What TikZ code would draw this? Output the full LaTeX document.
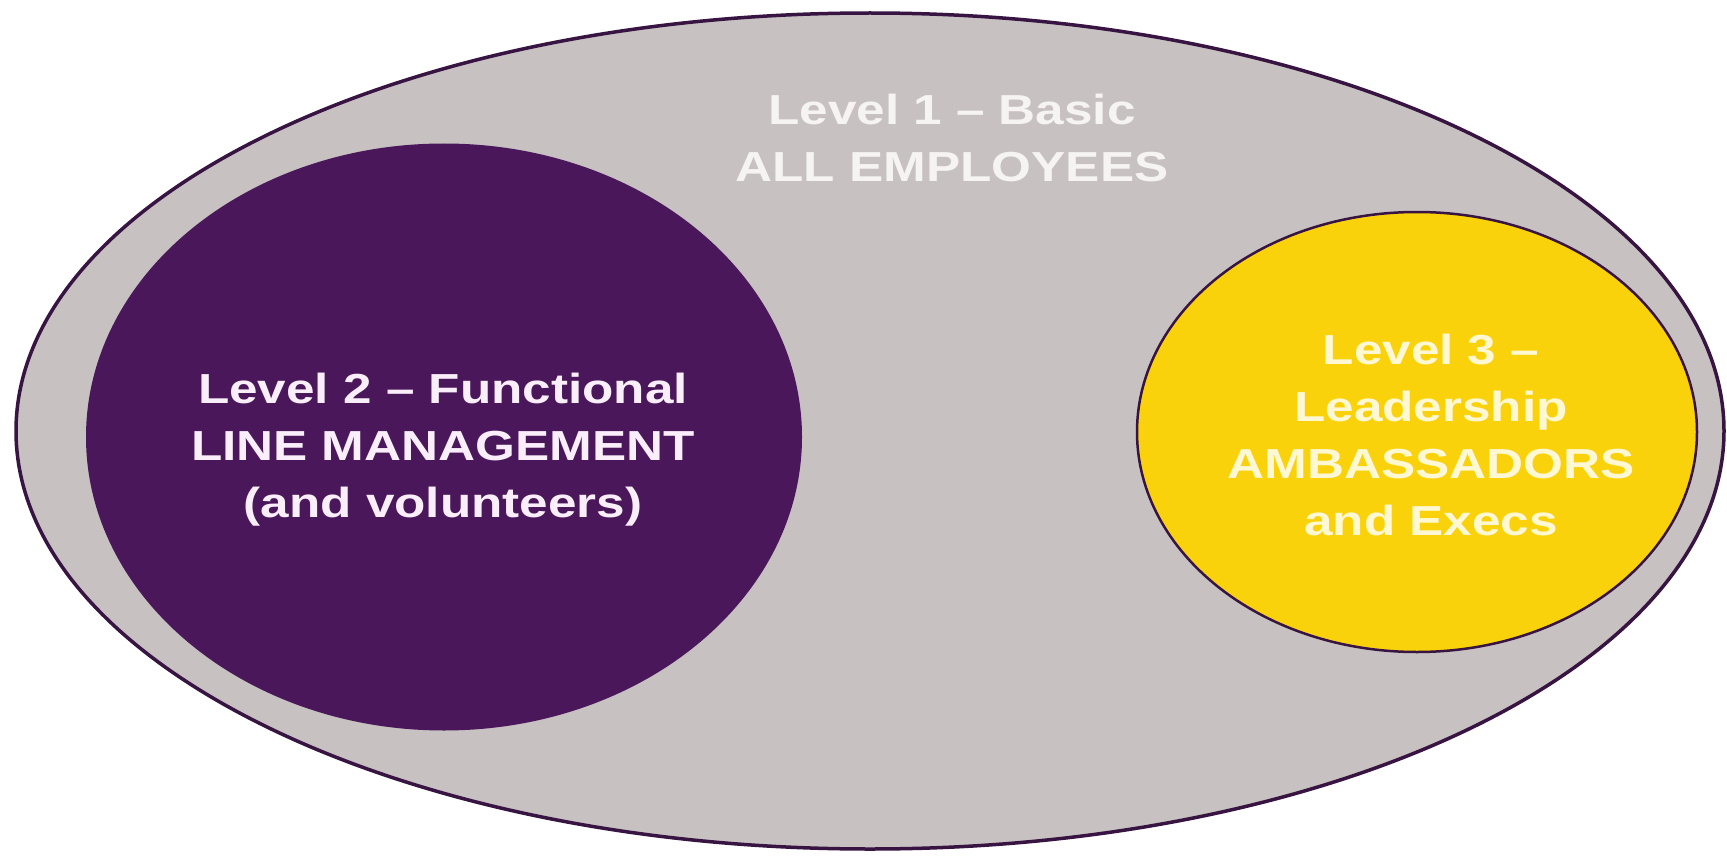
\documentclass[tikz,border=0pt]{standalone}
\usepackage{fontspec}
\newfontfamily\lab{Liberation Sans}[FakeStretch=1.22]
\usetikzlibrary{shapes.geometric}
\definecolor{ringgray}{RGB}{200,193,193}
\definecolor{deeppurple}{RGB}{74,24,90}
\definecolor{edgepurple}{RGB}{55,20,65}
\definecolor{gold}{RGB}{250,210,12}
\definecolor{txtone}{RGB}{246,243,243}
\definecolor{txttwo}{RGB}{250,238,250}
\definecolor{txtthree}{RGB}{255,248,210}
\begin{document}
\begin{tikzpicture}[x=1pt,y=-1pt,
  blob/.style={ellipse, inner sep=0pt, draw=edgepurple, line width=3.5pt},
  lbl/.style={font=\lab\bfseries\fontsize{42}{57}\selectfont, align=center, inner sep=0pt}]
\fill[white] (0,0) rectangle (1727,856);
\useasboundingbox (0,0) rectangle (1727,856);
\node[blob, fill=ringgray, minimum width=1708pt, minimum height=836pt] (outer) at (870,431) {};
\node[blob, fill=deeppurple, draw=none, minimum width=716pt, minimum height=587pt] (lvtwo) at (444,437) {};
\node[blob, fill=gold, line width=2.5pt, minimum width=560pt, minimum height=440pt] (lvthree) at (1417,432) {};
\node[lbl, text=txtone] (tone) at (952,138) {Level 1 – Basic\\ALL EMPLOYEES};
\node[lbl, text=txttwo] (ttwo) at (443,450) {Level 2 – Functional\\LINE MANAGEMENT\\(and volunteers)};
\node[lbl, text=txtthree] (tthree) at (1431,435) {Level 3 –\\Leadership\\AMBASSADORS\\and Execs};
\end{tikzpicture}
\end{document}
